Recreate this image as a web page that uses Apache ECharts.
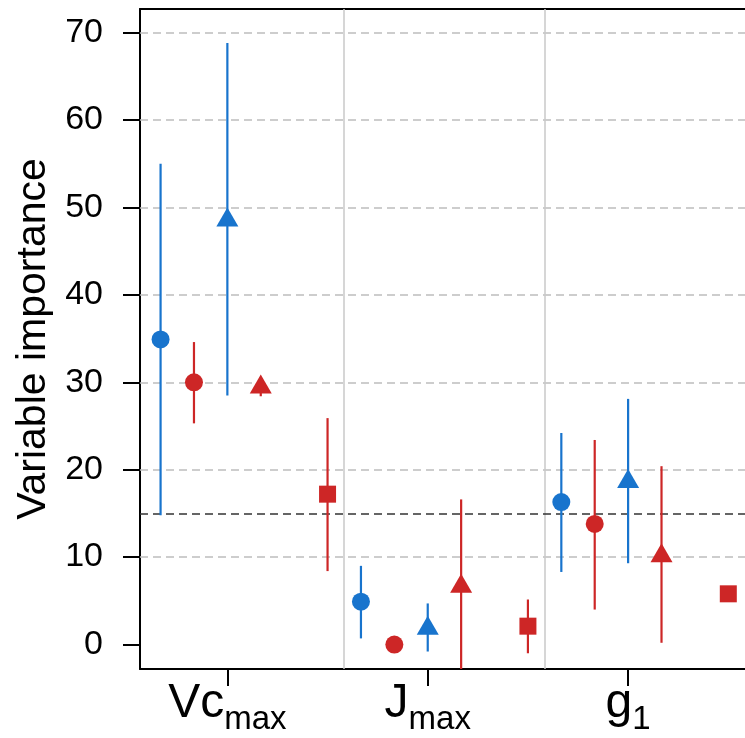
<!DOCTYPE html>
<html>
<head>
<meta charset="utf-8">
<script src="https://cdn.jsdelivr.net/npm/echarts@6/dist/echarts.min.js"></script>
<style>
  html, body { margin: 0; padding: 0; background: #fff; }
  #chart { width: 745px; height: 738px; }
</style>
</head>
<body>
<div id="chart"></div>
<script>
// groups on the x axis (centre of each group, in slot units)
const categories = ["Vcmax", "Jmax", "g1"];
const groupX = [0, 6, 12];
const yTicks = [0, 10, 20, 30, 40, 50, 60, 70];
const gridValues = [10, 20, 30, 40, 50, 60, 70];
const threshold = 15;
const separators = [3.5, 9.5];

// mean / lower / upper per group
const blueCircleMean = [34.9, 4.9, 16.3];
const blueCircleLo = [14.8, 0.7, 8.3];
const blueCircleHi = [55.0, 9.0, 24.2];

const redCircleMean = [30.0, 0.0, 13.8];
const redCircleLo = [25.3, 0.0, 4.0];
const redCircleHi = [34.6, 0.0, 23.4];

const blueTriMean = [48.9, 2.2, 19.0];
const blueTriLo = [28.5, -0.8, 9.3];
const blueTriHi = [68.8, 4.7, 28.1];

const redTriMean = [29.8, 7.0, 10.5];
const redTriLo = [28.4, -6.0, 0.2];
const redTriHi = [30.6, 16.6, 20.4];

const redSquareMean = [17.2, 2.1, 5.8];
const redSquareLo = [8.4, -1.0, 5.8];
const redSquareHi = [25.9, 5.15, 5.8];

const BLUE = "#1874CD";
const RED = "#CD2626";
const FONT = "Liberation Sans";

const groups = [
  { off: -2, color: BLUE, symbol: "circle", size: 18, mean: blueCircleMean, lo: blueCircleLo, hi: blueCircleHi },
  { off: -1, color: RED, symbol: "circle", size: 18, mean: redCircleMean, lo: redCircleLo, hi: redCircleHi },
  { off: 0, color: BLUE, symbol: "triangle", size: [22, 19], mean: blueTriMean, lo: blueTriLo, hi: blueTriHi },
  { off: 1, color: RED, symbol: "triangle", size: [22, 19], mean: redTriMean, lo: redTriLo, hi: redTriHi },
  { off: 3, color: RED, symbol: "rect", size: 17, mean: redSquareMean, lo: redSquareLo, hi: redSquareHi }
];

const labelText = {
  Vcmax: "{a|Vc}{b|max}",
  Jmax: "{a|J}{b|max}",
  g1: "{a|g}{b|1}"
};

let series = [];

// background lines
series.push({
  type: "scatter",
  data: [],
  z: 1,
  silent: true,
  markLine: {
    silent: true,
    z: 1,
    symbol: "none",
    label: { show: false },
    animation: false,
    data: gridValues.map(v => ({ yAxis: v, lineStyle: { color: "#bdbdbd", width: 1.5, type: [8, 5] } }))
      .concat(separators.map(v => ({ xAxis: v, lineStyle: { color: "#c8c8c8", width: 1.5, type: "solid" } })))
      .concat([{ yAxis: threshold, lineStyle: { color: "#333", width: 1.5, type: [8, 5] } }])
  }
});

groups.forEach(g => {
  const bars = groupX.map((x, i) => [x + g.off, g.lo[i], g.hi[i]]);
  const pts = groupX.map((x, i) => [x + g.off, g.mean[i]]);
  series.push({
    type: "custom",
    z: 3,
    clip: true,
    data: bars,
    encode: { x: 0, y: [1, 2] },
    renderItem: function (params, api) {
      const p1 = api.coord([api.value(0), api.value(1)]);
      const p2 = api.coord([api.value(0), api.value(2)]);
      return {
        type: "line",
        shape: { x1: p1[0], y1: p1[1], x2: p2[0], y2: p2[1] },
        style: { stroke: g.color, lineWidth: 2.2 }
      };
    }
  });
  series.push({
    type: "scatter",
    z: 4,
    data: pts,
    symbol: g.symbol,
    symbolSize: g.size,
    itemStyle: { color: g.color, opacity: 1 }
  });
});

const myChart = echarts.init(document.getElementById("chart"));
const option = {
  animation: false,
  backgroundColor: "#fff",
  grid: { left: 140, right: 0, top: 9, bottom: 69 },
  xAxis: [
    {
      type: "value",
      min: -2.616,
      max: 15.5,
      splitLine: { show: false },
      axisLine: { show: true, onZero: false, lineStyle: { color: "#000", width: 2 } },
      axisTick: { show: true, customValues: groupX, length: 17, lineStyle: { color: "#000", width: 2 } },
      axisLabel: {
        customValues: groupX,
        margin: 11,
        formatter: function (v) {
          const i = groupX.indexOf(v);
          return i >= 0 ? labelText[categories[i]] : "";
        },
        rich: {
          a: { fontSize: 48, fontFamily: FONT, color: "#000", verticalAlign: "bottom", padding: [0, 0, 8, 0] },
          b: { fontSize: 33, fontFamily: FONT, color: "#000", verticalAlign: "bottom" }
        }
      }
    },
    {
      type: "value",
      position: "top",
      min: -2.616,
      max: 15.5,
      splitLine: { show: false },
      axisLine: { show: true, onZero: false, lineStyle: { color: "#000", width: 2 } },
      axisTick: { show: false },
      axisLabel: { show: false }
    }
  ],
  yAxis: {
    type: "value",
    min: -2.8,
    max: 72.7,
    name: "Variable importance",
    nameLocation: "middle",
    nameRotate: 90,
    nameGap: 86,
    nameTextStyle: { fontSize: 41, fontFamily: FONT, color: "#000" },
    splitLine: { show: false },
    axisLine: { show: true, onZero: false, lineStyle: { color: "#000", width: 2 } },
    axisTick: { show: true, customValues: yTicks, length: 17, lineStyle: { color: "#000", width: 2 } },
    axisLabel: {
      customValues: yTicks,
      margin: 37,
      fontSize: 34,
      fontFamily: FONT,
      color: "#000"
    }
  },
  series: series
};
myChart.setOption(option, true);
</script>
</body>
</html>
